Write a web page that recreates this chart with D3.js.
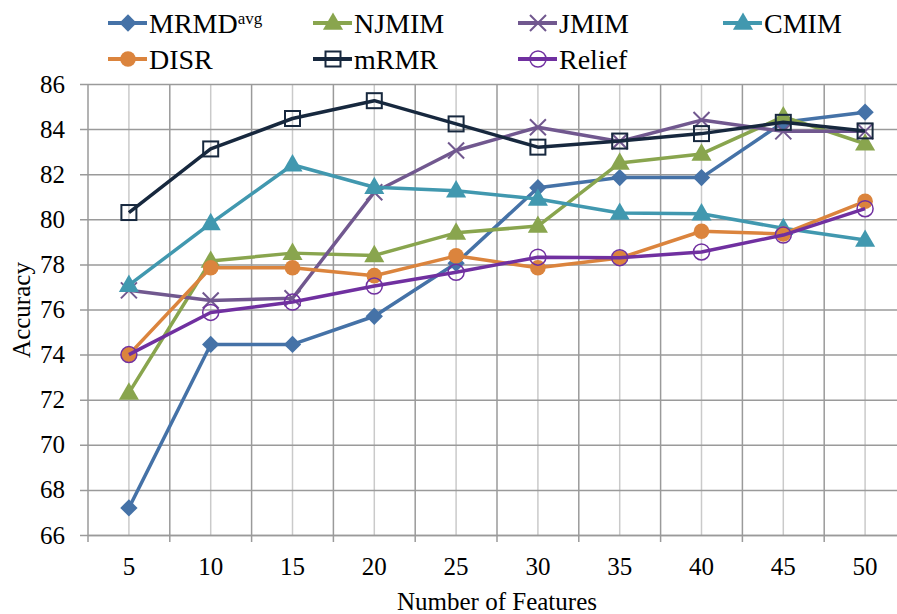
<!DOCTYPE html>
<html lang="en">
<head>
<meta charset="utf-8">
<title>Accuracy vs Number of Features</title>
<style>
  body { margin: 0; background: #fff; }
  svg text { font-family: "Liberation Serif", "Times New Roman", serif; fill: #000; }
</style>
</head>
<body>
<script src="https://cdn.jsdelivr.net/npm/d3@7"></script>
<script>
// data
var features = [5, 10, 15, 20, 25, 30, 35, 40, 45, 50];
var yTicks = [66, 68, 70, 72, 74, 76, 78, 80, 82, 84, 86];

var mrmd   = [67.2, 74.45, 74.45, 75.7, 78.05, 81.4, 81.85, 81.85, 84.3, 84.75];
var njmim  = [72.3, 78.15, 78.5, 78.4, 79.4, 79.7, 82.5, 82.9, 84.55, 83.35];
var jmim   = [76.85, 76.4, 76.5, 81.2, 83.05, 84.08, 83.45, 84.4, 83.9, 83.9];
var cmim   = [77.08, 79.82, 82.42, 81.42, 81.27, 80.9, 80.28, 80.25, 79.6, 79.08];
var disr   = [74.0, 77.85, 77.85, 77.5, 78.38, 77.85, 78.28, 79.47, 79.35, 80.8];
var mrmr   = [80.3, 83.12, 84.47, 85.26, 84.23, 83.2, 83.47, 83.8, 84.3, 83.92];
var relief = [74.0, 75.87, 76.33, 77.04, 77.65, 78.32, 78.3, 78.55, 79.3, 80.47];

var series = [
  {name: "MRMD", sup: "avg", values: mrmd, color: "#4572A7", marker: "diamond"},
  {name: "NJMIM", values: njmim, color: "#89A54E", marker: "triangle"},
  {name: "JMIM", values: jmim, color: "#71588F", marker: "cross"},
  {name: "CMIM", values: cmim, color: "#4198AF", marker: "triangle"},
  {name: "DISR", values: disr, color: "#DB843D", marker: "dot"},
  {name: "mRMR", values: mrmr, color: "#17283E", marker: "square"},
  {name: "Relief", values: relief, color: "#7030A0", marker: "circle"}
];

var width = 897, height = 614;
var plotLeft = 88, plotRight = 906, plotTop = 84, plotBottom = 535;

var svg = d3.select("body").append("svg")
  .attr("width", width)
  .attr("height", height);

var x = d3.scaleBand().domain(features).range([plotLeft, plotRight]).paddingInner(0).paddingOuter(0);
var y = d3.scaleLinear().domain([66, 86]).range([plotBottom, plotTop]);
var cx = function(f) { return x(f) + x.bandwidth() / 2; };

// vertical grid: lighter lines at category centers, darker at boundaries
svg.append("g").selectAll("line")
  .data(features).enter().append("line")
  .attr("x1", cx).attr("x2", cx)
  .attr("y1", plotTop).attr("y2", plotBottom)
  .attr("stroke", "#cacaca").attr("stroke-width", 1.5);

var edges = features.map(function(f) { return x(f); }).concat([plotRight]);
svg.append("g").selectAll("line")
  .data(edges).enter().append("line")
  .attr("x1", function(d) { return d; }).attr("x2", function(d) { return d; })
  .attr("y1", plotTop).attr("y2", plotBottom + 7)
  .attr("stroke", "#9a9a9a").attr("stroke-width", 1.5);

// y axis with grid
var yAxis = d3.axisLeft(y).tickValues(yTicks).tickSize(-(plotRight - plotLeft)).tickPadding(14);
var gy = svg.append("g")
  .attr("transform", "translate(" + plotLeft + ",0)")
  .call(yAxis);
gy.select(".domain").remove();
gy.selectAll(".tick line")
  .attr("x1", -8)
  .attr("stroke", "#9a9a9a").attr("stroke-width", 1.5);
gy.selectAll(".tick text")
  .attr("x", -23)
  .attr("font-size", 25);

// x axis
var xAxis = d3.axisBottom(x).tickSize(0).tickPadding(22);
var gx = svg.append("g")
  .attr("transform", "translate(0," + plotBottom + ")")
  .call(xAxis);
gx.select(".domain").attr("stroke", "#9a9a9a").attr("stroke-width", 1.5);
gx.selectAll(".tick text")
  .attr("font-size", 25);

// axis titles
svg.append("text")
  .attr("x", 497).attr("y", 610)
  .attr("text-anchor", "middle")
  .attr("font-size", 25)
  .text("Number of Features");

svg.append("text")
  .attr("transform", "translate(30,310) rotate(-90)")
  .attr("text-anchor", "middle")
  .attr("font-size", 25)
  .text("Accuracy");

// marker shapes
function drawMarker(g, kind, color) {
  if (kind === "diamond") {
    g.append("path").attr("d", d3.symbol().type(d3.symbolSquare).size(150)())
      .attr("transform", "rotate(45)").attr("fill", color);
  } else if (kind === "triangle") {
    g.append("path").attr("d", d3.symbol().type(d3.symbolTriangle).size(175)())
      .attr("transform", "translate(0,1)").attr("fill", color);
  } else if (kind === "cross") {
    g.append("path").attr("d", "M-8,-8L8,8M-8,8L8,-8")
      .attr("stroke", color).attr("stroke-width", 2).attr("fill", "none");
  } else if (kind === "dot") {
    g.append("circle").attr("r", 7.8).attr("fill", color);
  } else if (kind === "square") {
    g.append("rect").attr("x", -7.5).attr("y", -7.5).attr("width", 15).attr("height", 15)
      .attr("fill", "none").attr("stroke", color).attr("stroke-width", 2);
  } else if (kind === "circle") {
    g.append("circle").attr("r", 8)
      .attr("fill", "none").attr("stroke", color).attr("stroke-width", 1.5);
  }
}

var line = d3.line()
  .x(function(d, i) { return cx(features[i]); })
  .y(function(d) { return y(d); });

series.forEach(function(s) {
  var g = svg.append("g");
  g.append("path")
    .attr("d", line(s.values))
    .attr("fill", "none")
    .attr("stroke", s.color)
    .attr("stroke-width", 3.5)
    .attr("stroke-linejoin", "round");
  g.selectAll("g.m")
    .data(s.values).enter().append("g")
    .attr("class", "m")
    .attr("transform", function(d, i) { return "translate(" + cx(features[i]) + "," + y(d) + ")"; })
    .each(function() { drawMarker(d3.select(this), s.marker, s.color); });
});

// legend
var legX = [108, 313, 518, 723];
var legY = [23, 59];
series.forEach(function(s, i) {
  var lx = legX[i % 4], ly = legY[Math.floor(i / 4)];
  var g = svg.append("g").attr("transform", "translate(" + lx + "," + ly + ")");
  g.append("line").attr("x1", 0).attr("x2", 39).attr("y1", 0).attr("y2", 0)
    .attr("stroke", s.color).attr("stroke-width", 4);
  var m = g.append("g").attr("transform", "translate(20,0)");
  drawMarker(m, s.marker, s.color);
  var t = g.append("text").attr("x", 41).attr("y", 10).attr("font-size", 28).text(s.name);
  if (s.sup) {
    t.append("tspan").attr("dy", -9).attr("font-size", 17).text(s.sup);
  }
});
</script>
</body>
</html>
